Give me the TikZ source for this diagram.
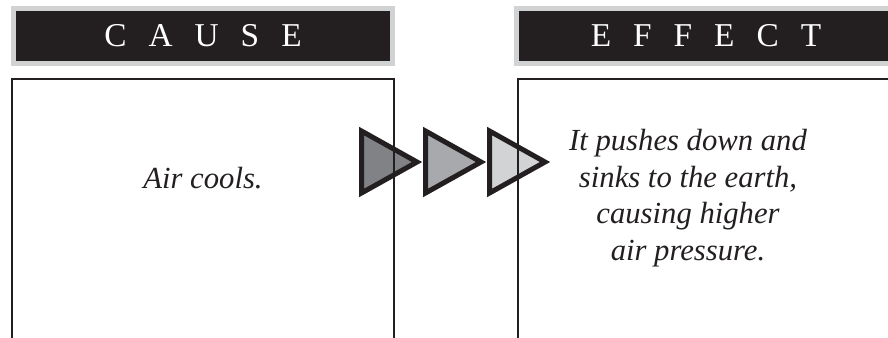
\documentclass[tikz,border=0pt]{standalone}
\usepackage{fontspec}
\setmainfont{Liberation Serif}
\usepackage{tikz}
\usetikzlibrary{positioning}
\definecolor{inkblack}{HTML}{231F20}
\definecolor{barrim}{HTML}{D1D2D4}
\definecolor{tridark}{HTML}{808285}
\definecolor{trimid}{HTML}{A7A9AC}
\definecolor{trilight}{HTML}{D1D3D4}
\newcommand{\lsp}{\hspace{0.66em}}
\tikzset{
  headbar/.style={draw=barrim, fill=inkblack, line width=3.75pt, text=white,
    font=\fontsize{25}{25}\selectfont, minimum width=284.25pt,
    minimum height=41.25pt, inner sep=0pt},
  panel/.style={draw=inkblack, line width=1.5pt},
  pointer/.style={draw=inkblack, line width=3.75pt, line join=miter, miter limit=10},
  caption/.style={font=\fontsize{23}{27.5}\selectfont\itshape, align=center, text=inkblack},
}

\begin{document}
\begin{tikzpicture}[x=0.75pt, y=-0.75pt]

  \clip (0,0) rectangle (888,337);

  % header bars
  \node[headbar] (causehead) at (203,36) {C\lsp A\lsp U\lsp S\lsp E};
  \node[headbar] (effecthead) at (706,36) {E\lsp F\lsp F\lsp E\lsp C\lsp T};

  % arrow heads between the panels
  \foreach \tx/\tc in {361.5/tridark, 425.5/trimid, 489.5/trilight}
    \draw[pointer, fill=\tc] (\tx,131) -- ++(55.5,31) -- ++(-55.5,31) -- cycle;

  % panels, open at the bottom
  \draw[panel] (12,345) -- (12,79) -- (394,79) -- (394,345);
  \draw[panel] (518,345) -- (518,79) -- (895,79);

  % texts
  \node[caption] (causetext) at (203,178) {Air cools.};
  \node[caption] (effecttext) at (688,198) {It pushes down and\\sinks to the earth,\\causing higher\\air pressure.};

\end{tikzpicture}
\end{document}
